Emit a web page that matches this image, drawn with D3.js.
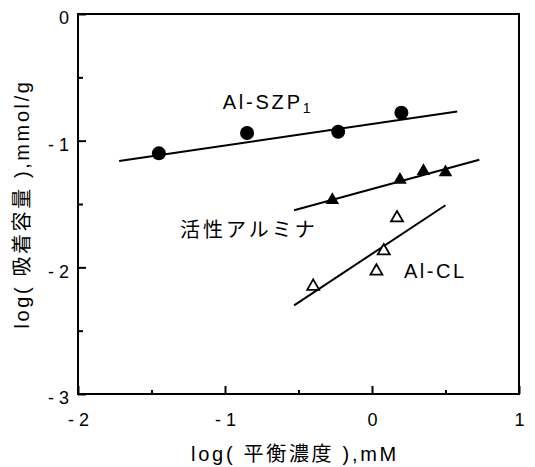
<!DOCTYPE html>
<html>
<head>
<meta charset="utf-8">
<script src="https://cdn.jsdelivr.net/npm/d3@7"></script>
<style>
  body { margin: 0; background: #fff; }
  svg text { font-family: "Liberation Sans", Arial, "Noto Sans CJK JP", sans-serif; fill: #000; }
  .tick text { font-size: 18px; }
</style>
</head>
<body>
<svg width="535" height="467"></svg>
<script>
// values (log units)
const xMajor = [-2, -1, 0, 1];
const xMinor = [-1.5, -0.5, 0.5];
const yMajor = [0, -1, -2, -3];
const yMinor = [-0.5, -1.5, -2.5];

const szpX = [-1.45, -0.85, -0.23, 0.20];
const szpY = [-1.10, -0.94, -0.93, -0.78];
const aluminaX = [-0.27, 0.19, 0.35, 0.50];
const aluminaY = [-1.47, -1.31, -1.24, -1.25];
const clX = [-0.40, 0.03, 0.08, 0.17];
const clY = [-2.15, -2.03, -1.87, -1.61];

// fitted lines, end points
const szpLine = [[-1.72, -1.16], [0.58, -0.77]];
const aluminaLine = [[-0.53, -1.55], [0.73, -1.15]];
const clLine = [[-0.53, -2.30], [0.50, -1.51]];

var svg = d3.select("svg");
var plotL = 78, plotR = 519, plotT = 14, plotB = 394;

var x = d3.scaleLinear().domain([-2, 1]).range([plotL, plotR]);
var y = d3.scaleLinear().domain([-3, 0]).range([plotB, plotT]);

function fmt(d) {
    return d < 0 ? "- " + Math.abs(d) : String(d);
}

// x axis, ticks pointing inward
svg.append("g")
    .attr("transform", "translate(0," + plotB + ")")
    .call(d3.axisBottom(x).tickValues(xMajor).tickSize(-8).tickPadding(19).tickFormat(fmt))
    .attr("font-size", 18)
    .call(g => g.select(".domain").remove())
    .call(g => g.selectAll("line").attr("stroke", "#000").attr("stroke-width", 2));

svg.append("g")
    .attr("transform", "translate(0," + plotB + ")")
    .call(d3.axisBottom(x).tickValues(xMinor).tickSize(-4).tickFormat(""))
    .call(g => g.select(".domain").remove())
    .call(g => g.selectAll("line").attr("stroke", "#000").attr("stroke-width", 2));

// y axis
svg.append("g")
    .attr("transform", "translate(" + plotL + ",0)")
    .call(d3.axisLeft(y).tickValues(yMajor).tickSize(-8).tickPadding(9).tickFormat(fmt))
    .attr("font-size", 18)
    .call(g => g.select(".domain").remove())
    .call(g => g.selectAll("line").attr("stroke", "#000").attr("stroke-width", 2))
    .call(g => g.selectAll("text").attr("dy", "0.55em"));

svg.append("g")
    .attr("transform", "translate(" + plotL + ",0)")
    .call(d3.axisLeft(y).tickValues(yMinor).tickSize(-5).tickFormat(""))
    .call(g => g.select(".domain").remove())
    .call(g => g.selectAll("line").attr("stroke", "#000").attr("stroke-width", 2));

// frame
svg.append("rect")
    .attr("x", plotL).attr("y", plotT)
    .attr("width", plotR - plotL).attr("height", plotB - plotT)
    .attr("fill", "none").attr("stroke", "#000").attr("stroke-width", 2);

// fit lines
var line = d3.line().x(d => x(d[0])).y(d => y(d[1]));
[szpLine, aluminaLine, clLine].forEach(function (l) {
    svg.append("path")
        .attr("d", line(l))
        .attr("fill", "none")
        .attr("stroke", "#000")
        .attr("stroke-width", 2);
});

// Al-SZP1 points
svg.append("g").selectAll("circle")
    .data(d3.zip(szpX, szpY))
    .enter().append("circle")
    .attr("cx", d => x(d[0]))
    .attr("cy", d => y(d[1]))
    .attr("r", 7)
    .attr("fill", "#000");

// activated alumina, filled triangles
svg.append("g").selectAll("path")
    .data(d3.zip(aluminaX, aluminaY))
    .enter().append("path")
    .attr("d", d3.symbol(d3.symbolTriangle, 80))
    .attr("transform", d => "translate(" + x(d[0]) + "," + y(d[1]) + ")")
    .attr("fill", "#000");

// Al-CL, open triangles
svg.append("g").selectAll("path")
    .data(d3.zip(clX, clY))
    .enter().append("path")
    .attr("d", d3.symbol(d3.symbolTriangle, 62))
    .attr("transform", d => "translate(" + x(d[0]) + "," + y(d[1]) + ")")
    .attr("fill", "#fff")
    .attr("stroke", "#000")
    .attr("stroke-width", 1.8);

// series labels
var szpLabel = svg.append("text")
    .attr("x", x(-1.016)).attr("y", y(-0.752))
    .style("font-size", "20px").attr("letter-spacing", 2.8);
szpLabel.append("tspan").text("Al-SZP");
szpLabel.append("tspan").text("1").style("font-size", "14px").attr("dy", 4);

svg.append("text")
    .attr("x", x(-1.306)).attr("y", y(-1.76))
    .style("font-size", "20px").attr("letter-spacing", 3)
    .text("活性アルミナ");

svg.append("text")
    .attr("x", x(0.218)).attr("y", y(-2.087))
    .style("font-size", "20px").attr("letter-spacing", 2.5)
    .text("Al-CL");

// axis titles
svg.append("text")
    .attr("x", 295).attr("y", 461)
    .attr("text-anchor", "middle")
    .style("font-size", "20px").attr("letter-spacing", 2.7)
    .text("log( 平衡濃度 ),mM");

svg.append("text")
    .attr("transform", "translate(29,204) rotate(-90)")
    .attr("text-anchor", "middle")
    .style("font-size", "20px").attr("letter-spacing", 2.6)
    .text("log( 吸着容量 ),mmol/g");
</script>
</body>
</html>
